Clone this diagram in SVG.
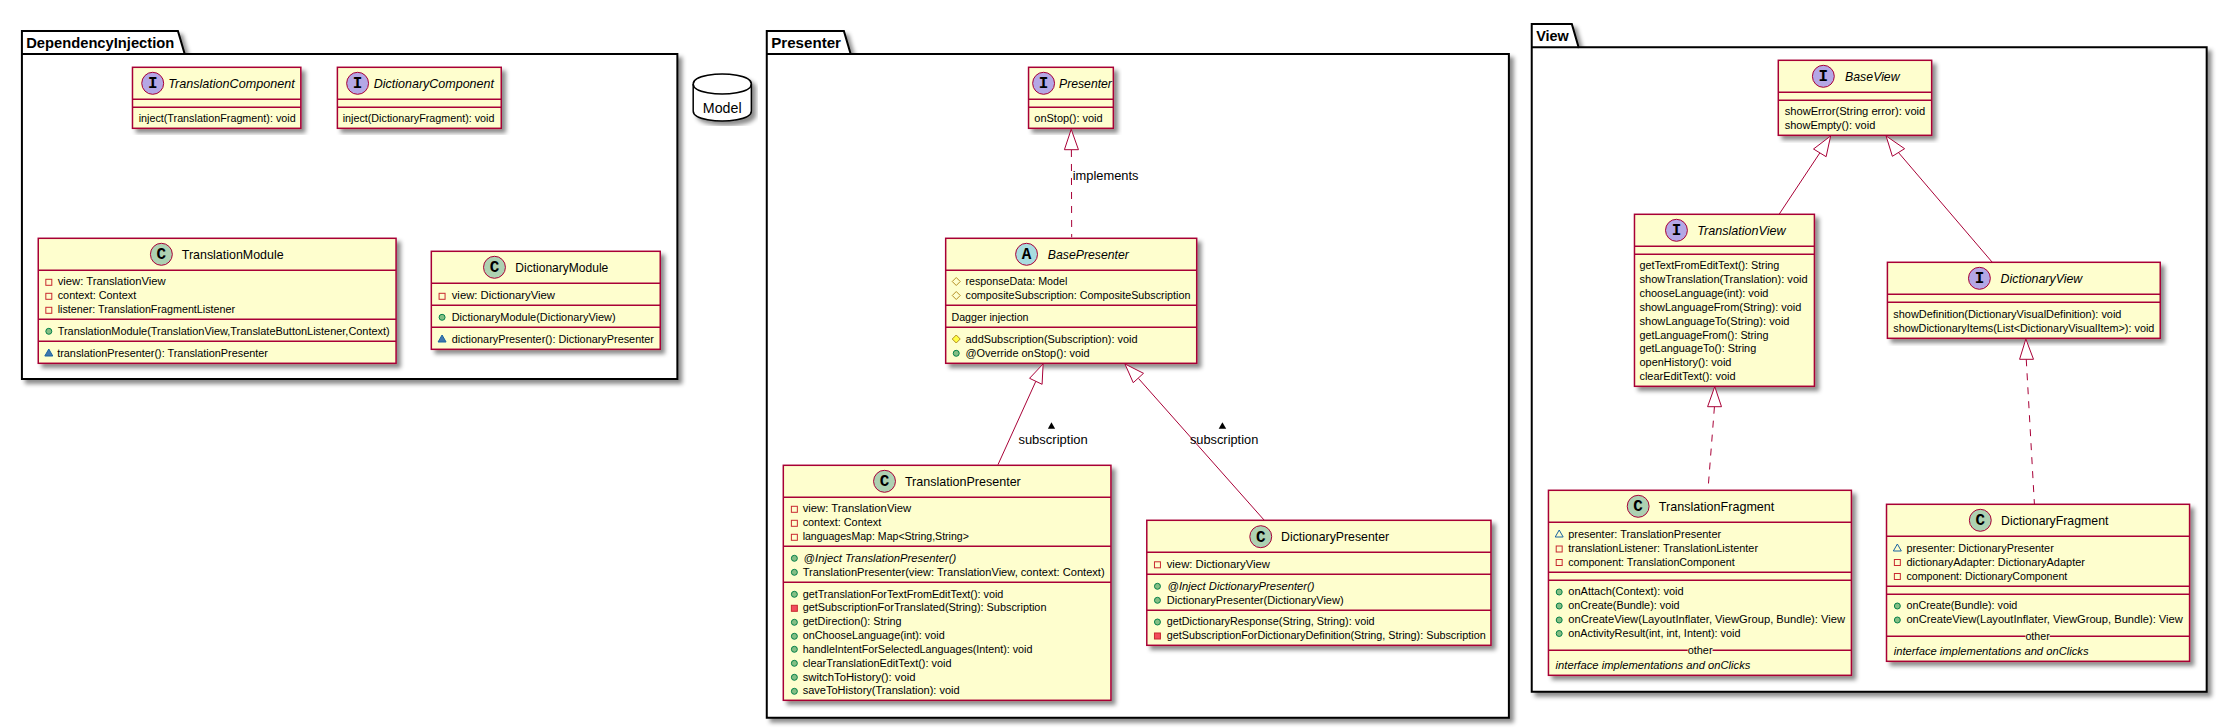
<svg xmlns="http://www.w3.org/2000/svg" width="2227" height="728" viewBox="0 0 2227 728">
<style>
text{font-family:"Liberation Sans",Arial,sans-serif;fill:#000}
.t{font-size:13px}.m{font-size:11.5px}.l{font-size:13px}.i{font-style:italic}
.p{font-size:14px;font-weight:bold}
.b{font-family:"Liberation Mono",monospace;font-weight:bold;font-size:16px;text-anchor:middle}
.pk{fill:#fff;stroke:#000;stroke-width:2}
.box{fill:#FEFECE;stroke:#A80036;stroke-width:1.5}
.s{fill:none;stroke:#A80036;stroke-width:1.5}
.ci{stroke:#A80036;stroke-width:1;fill:#B4A7E5}.cc{stroke:#A80036;stroke-width:1;fill:#ADD1B2}.ca{stroke:#A80036;stroke-width:1;fill:#A9DCDF}
.c{fill:none;stroke:#A80036;stroke-width:1}.d{stroke-dasharray:7 7}
.h{fill:#fff;stroke:#A80036;stroke-width:1}
</style>
<defs>
<filter id="sh" x="-10%" y="-10%" width="120%" height="120%"><feDropShadow dx="4" dy="4" stdDeviation="2" flood-color="#000" flood-opacity=".45"/></filter>
<rect id="fpri" x="-3" y="-3" width="6" height="6" fill="none" stroke="#C82930"/>
<rect id="mpri" x="-3" y="-3" width="6" height="6" fill="#F24D5C" stroke="#C82930"/>
<circle id="mpub" r="3" fill="#84BE84" stroke="#038048"/>
<path id="mpkg" d="M-4 3H4L0-4Z" fill="#4177AF" stroke="#1963A0"/>
<path id="fpkg" d="M-4 3H4L0-4Z" fill="none" stroke="#1963A0"/>
<path id="fpro" d="M0-4L4 0L0 4L-4 0Z" fill="none" stroke="#B38D22"/>
<path id="mpro" d="M0-4L4 0L0 4L-4 0Z" fill="#FFFF44" stroke="#B38D22"/>
</defs>

<g transform="matrix(.99612 0 0 1 0 0)">
<g id="pkg-DependencyInjection"><path class="pk" filter="url(#sh)" d="M22 54V31H178.6L185.4 54H680V379H22Z"/><path class="pk" style="fill:none" d="M22 54H185.4"/><text class="p" x="26.3" y="48.3" textLength="148.7" lengthAdjust="spacingAndGlyphs">DependencyInjection</text></g>
<g id="Model"><path filter="url(#sh)" fill="#fff" stroke="#000" stroke-width="1.5" d="M695.9 84C695.9 74 725 74 725 74C725 74 754.3 74 754.3 84V111C754.3 121 725 121 725 121C725 121 695.9 121 695.9 111Z"/><path fill="none" stroke="#000" stroke-width="1.5" d="M695.9 84C695.9 94 725 94 725 94C725 94 754.3 94 754.3 84"/><text x="705.6" y="113" font-size="14" textLength="38.9" lengthAdjust="spacingAndGlyphs">Model</text></g>

<g id="TranslationComponent"><rect class="box" filter="url(#sh)" x="133" y="67.3" width="169" height="61"/><path class="s" d="M133 99.3H302M133 107.3H302"/><circle class="ci" cx="153.3" cy="83.3" r="11"/><text class="b" x="153.3" y="88.5">I</text><text class="t i" x="168.9" y="88" textLength="127" lengthAdjust="spacingAndGlyphs">TranslationComponent</text><text class="m" x="139.2" y="122" textLength="157.6" lengthAdjust="spacingAndGlyphs">inject(TranslationFragment): void</text></g>
<g id="DictionaryComponent"><rect class="box" filter="url(#sh)" x="338.7" y="67.3" width="164.5" height="61"/><path class="s" d="M338.7 99.3H503.2M338.7 107.3H503.2"/><circle class="ci" cx="359" cy="83.3" r="11"/><text class="b" x="359" y="88.5">I</text><text class="t i" x="375.2" y="88" textLength="120.7" lengthAdjust="spacingAndGlyphs">DictionaryComponent</text><text class="m" x="344" y="122" textLength="152.4" lengthAdjust="spacingAndGlyphs">inject(DictionaryFragment): void</text></g>

<g id="TranslationModule"><rect class="box" filter="url(#sh)" x="38.4" y="238.3" width="359.2" height="125"/><path class="s" d="M38.4 270.3H397.6M38.4 319.3H397.6M38.4 341.3H397.6"/><circle class="cc" cx="162" cy="254.3" r="11"/><text class="b" x="162" y="259.5">C</text><text class="t" x="182.5" y="259" textLength="102.2" lengthAdjust="spacingAndGlyphs">TranslationModule</text>
<use href="#fpri" x="49" y="282.3"/><text class="m" x="57.9" y="285.3" textLength="108.5" lengthAdjust="spacingAndGlyphs">view: TranslationView</text>
<use href="#fpri" x="49" y="296.3"/><text class="m" x="57.9" y="299.3" textLength="78.8" lengthAdjust="spacingAndGlyphs">context: Context</text>
<use href="#fpri" x="49" y="310.3"/><text class="m" x="57.9" y="313.3" textLength="178.1" lengthAdjust="spacingAndGlyphs">listener: TranslationFragmentListener</text>
<use href="#mpub" x="49" y="331.3"/><text class="m" x="57.9" y="335.3" textLength="333.3" lengthAdjust="spacingAndGlyphs">TranslationModule(TranslationView,TranslateButtonListener,Context)</text>
<use href="#mpkg" x="49" y="353"/><text class="m" x="57.4" y="357.3" textLength="211.6" lengthAdjust="spacingAndGlyphs">translationPresenter(): TranslationPresenter</text></g>

<g id="DictionaryModule"><rect class="box" filter="url(#sh)" x="433" y="251.3" width="229.8" height="98"/><path class="s" d="M433 283.3H662.8M433 305.3H662.8M433 327.3H662.8"/><circle class="cc" cx="496.4" cy="267.3" r="11"/><text class="b" x="496.4" y="272.5">C</text><text class="t" x="517.3" y="272" textLength="93.4" lengthAdjust="spacingAndGlyphs">DictionaryModule</text>
<use href="#fpri" x="443.8" y="296.3"/><text class="m" x="453.5" y="299.3" textLength="103.7" lengthAdjust="spacingAndGlyphs">view: DictionaryView</text>
<use href="#mpub" x="443.8" y="317.3"/><text class="m" x="453.5" y="321.3" textLength="164.5" lengthAdjust="spacingAndGlyphs">DictionaryModule(DictionaryView)</text>
<use href="#mpkg" x="443.8" y="339"/><text class="m" x="453.5" y="343.3" textLength="202.9" lengthAdjust="spacingAndGlyphs">dictionaryPresenter(): DictionaryPresenter</text></g>
</g>

<g transform="matrix(.99612 0 0 1 2.95 0)">
<g id="pkg-Presenter"><path class="pk" filter="url(#sh)" d="M766.8 54V31H844.2L851 54H1511.8V717.7H766.8Z"/><path class="pk" style="fill:none" d="M766.8 54H851"/><text class="p" x="771.2" y="48.3" textLength="70.1" lengthAdjust="spacingAndGlyphs">Presenter</text></g>

<g id="Presenter"><rect class="box" filter="url(#sh)" x="1029.6" y="67.3" width="85.1" height="61"/><path class="s" d="M1029.6 99.3H1114.7M1029.6 107.3H1114.7"/><circle class="ci" cx="1044.7" cy="83.3" r="11"/><text class="b" x="1044.7" y="88.5">I</text><text class="t i" x="1060.2" y="88" textLength="53.1" lengthAdjust="spacingAndGlyphs">Presenter</text><text class="m" x="1035.4" y="122" textLength="68.6" lengthAdjust="spacingAndGlyphs">onStop(): void</text></g>

<g id="BasePresenter"><rect class="box" filter="url(#sh)" x="946.4" y="238.3" width="252" height="125"/><path class="s" d="M946.4 270.3H1198.4M946.4 305.3H1198.4M946.4 327.3H1198.4"/><circle class="ca" cx="1027.6" cy="254.3" r="11"/><text class="b" x="1027.6" y="259.5">A</text><text class="t i" x="1049" y="259" textLength="81.3" lengthAdjust="spacingAndGlyphs">BasePresenter</text>
<use href="#fpro" x="957" y="281.5"/><text class="m" x="966.3" y="285.3" textLength="102.2" lengthAdjust="spacingAndGlyphs">responseData: Model</text>
<use href="#fpro" x="957" y="295.5"/><text class="m" x="966.3" y="299.3" textLength="225.8" lengthAdjust="spacingAndGlyphs">compositeSubscription: CompositeSubscription</text>
<text class="m" x="952.2" y="321.3" textLength="77.4" lengthAdjust="spacingAndGlyphs">Dagger injection</text>
<use href="#mpro" x="957" y="339"/><text class="m" x="966.3" y="343.3" textLength="172.7" lengthAdjust="spacingAndGlyphs">addSubscription(Subscription): void</text>
<use href="#mpub" x="957" y="353.3"/><text class="m" x="966.3" y="357.3" textLength="124.6" lengthAdjust="spacingAndGlyphs">@Override onStop(): void</text></g>

<g id="TranslationPresenter"><rect class="box" filter="url(#sh)" x="783.4" y="465.3" width="328.9" height="235"/><path class="s" d="M783.4 497.3H1112.3M783.4 546.3H1112.3M783.4 582.3H1112.3"/><circle class="cc" cx="885" cy="481.3" r="11"/><text class="b" x="885" y="486.5">C</text><text class="t" x="905.5" y="486" textLength="116.3" lengthAdjust="spacingAndGlyphs">TranslationPresenter</text>
<use href="#fpri" x="794.5" y="509.3"/><text class="m" x="802.8" y="512.3" textLength="109" lengthAdjust="spacingAndGlyphs">view: TranslationView</text>
<use href="#fpri" x="794.5" y="523.3"/><text class="m" x="802.8" y="526.3" textLength="78.9" lengthAdjust="spacingAndGlyphs">context: Context</text>
<use href="#fpri" x="794.5" y="537.3"/><text class="m" x="802.8" y="540.3" textLength="166.9" lengthAdjust="spacingAndGlyphs">languagesMap: Map&lt;String,String&gt;</text>
<use href="#mpub" x="794.5" y="558.3"/><text class="m i" x="803.8" y="562.3" textLength="153.2" lengthAdjust="spacingAndGlyphs">@Inject TranslationPresenter()</text>
<use href="#mpub" x="794.5" y="572.3"/><text class="m" x="802.8" y="576.3" textLength="303.2" lengthAdjust="spacingAndGlyphs">TranslationPresenter(view: TranslationView, context: Context)</text>
<use href="#mpub" x="794.5" y="594.3"/><text class="m" x="802.8" y="598" textLength="201.5" lengthAdjust="spacingAndGlyphs">getTranslationForTextFromEditText(): void</text>
<use href="#mpri" x="794.5" y="608.3"/><text class="m" x="802.8" y="611.3" textLength="244.8" lengthAdjust="spacingAndGlyphs">getSubscriptionForTranslated(String): Subscription</text>
<use href="#mpub" x="794.5" y="622.3"/><text class="m" x="802.8" y="625.3" textLength="99.3" lengthAdjust="spacingAndGlyphs">getDirection(): String</text>
<use href="#mpub" x="794.5" y="636.3"/><text class="m" x="802.8" y="639.3" textLength="142.6" lengthAdjust="spacingAndGlyphs">onChooseLanguage(int): void</text>
<use href="#mpub" x="794.5" y="649.3"/><text class="m" x="802.8" y="653.3" textLength="230.7" lengthAdjust="spacingAndGlyphs">handleIntentForSelectedLanguages(Intent): void</text>
<use href="#mpub" x="794.5" y="663.3"/><text class="m" x="802.8" y="667.3" textLength="149.4" lengthAdjust="spacingAndGlyphs">clearTranslationEditText(): void</text>
<use href="#mpub" x="794.5" y="677.3"/><text class="m" x="802.8" y="681.3" textLength="113.4" lengthAdjust="spacingAndGlyphs">switchToHistory(): void</text>
<use href="#mpub" x="794.5" y="691.3"/><text class="m" x="802.8" y="694.3" textLength="157.7" lengthAdjust="spacingAndGlyphs">saveToHistory(Translation): void</text></g>

<g id="DictionaryPresenter"><rect class="box" filter="url(#sh)" x="1148.3" y="520.3" width="345.5" height="125"/><path class="s" d="M1148.3 552.3H1493.8M1148.3 574.3H1493.8M1148.3 610.3H1493.8"/><circle class="cc" cx="1262.7" cy="536.7" r="11"/><text class="b" x="1262.7" y="541.9">C</text><text class="t" x="1283.1" y="541" textLength="108.5" lengthAdjust="spacingAndGlyphs">DictionaryPresenter</text>
<use href="#fpri" x="1159" y="564.8"/><text class="m" x="1168.3" y="568.3" textLength="103.6" lengthAdjust="spacingAndGlyphs">view: DictionaryView</text>
<use href="#mpub" x="1159" y="586.3"/><text class="m i" x="1169.2" y="590.3" textLength="147.5" lengthAdjust="spacingAndGlyphs">@Inject DictionaryPresenter()</text>
<use href="#mpub" x="1159" y="600.3"/><text class="m" x="1168.3" y="604.3" textLength="177.6" lengthAdjust="spacingAndGlyphs">DictionaryPresenter(DictionaryView)</text>
<use href="#mpub" x="1159" y="622"/><text class="m" x="1168.3" y="625.3" textLength="208.7" lengthAdjust="spacingAndGlyphs">getDictionaryResponse(String, String): void</text>
<use href="#mpri" x="1159" y="636"/><text class="m" x="1168.3" y="639.3" textLength="320.2" lengthAdjust="spacingAndGlyphs">getSubscriptionForDictionaryDefinition(String, String): Subscription</text></g>
</g>

<g transform="matrix(.9946 0 0 1 8.21 0)">
<g id="pkg-View"><path class="pk" filter="url(#sh)" d="M1531.8 47.3V24H1572.1L1578.9 47.3H2210.4V691.7H1531.8Z"/><path class="pk" style="fill:none" d="M1531.8 47.3H1578.9"/><text class="p" x="1536.3" y="41" textLength="32.7" lengthAdjust="spacingAndGlyphs">View</text></g>

<g id="BaseView"><rect class="box" filter="url(#sh)" x="1779.7" y="60.3" width="154.2" height="75"/><path class="s" d="M1779.7 92.3H1933.9M1779.7 100.3H1933.9"/><circle class="ci" cx="1825" cy="76.3" r="11"/><text class="b" x="1825" y="81.5">I</text><text class="t i" x="1846.8" y="81" textLength="54.9" lengthAdjust="spacingAndGlyphs">BaseView</text><text class="m" x="1786.1" y="115.3" textLength="141.4" lengthAdjust="spacingAndGlyphs">showError(String error): void</text><text class="m" x="1786.1" y="129.3" textLength="91.1" lengthAdjust="spacingAndGlyphs">showEmpty(): void</text></g>

<g id="TranslationView"><rect class="box" filter="url(#sh)" x="1635.1" y="214.3" width="180.9" height="172"/><path class="s" d="M1635.1 246.3H1816M1635.1 254.3H1816"/><circle class="ci" cx="1677.3" cy="230.3" r="11"/><text class="b" x="1677.3" y="235.5">I</text><text class="t i" x="1698.2" y="235" textLength="88.8" lengthAdjust="spacingAndGlyphs">TranslationView</text>
<text class="m" x="1640.1" y="269.3" textLength="140.6" lengthAdjust="spacingAndGlyphs">getTextFromEditText(): String</text>
<text class="m" x="1640.1" y="283.3" textLength="169.1" lengthAdjust="spacingAndGlyphs">showTranslation(Translation): void</text>
<text class="m" x="1640.1" y="297.3" textLength="129.7" lengthAdjust="spacingAndGlyphs">chooseLanguage(int): void</text>
<text class="m" x="1640.1" y="311.3" textLength="162.8" lengthAdjust="spacingAndGlyphs">showLanguageFrom(String): void</text>
<text class="m" x="1640.1" y="325.3" textLength="150.9" lengthAdjust="spacingAndGlyphs">showLanguageTo(String): void</text>
<text class="m" x="1640.1" y="339.3" textLength="129.7" lengthAdjust="spacingAndGlyphs">getLanguageFrom(): String</text>
<text class="m" x="1640.1" y="352.3" textLength="117.4" lengthAdjust="spacingAndGlyphs">getLanguageTo(): String</text>
<text class="m" x="1640.1" y="366.3" textLength="92.5" lengthAdjust="spacingAndGlyphs">openHistory(): void</text>
<text class="m" x="1640.1" y="380.3" textLength="96.6" lengthAdjust="spacingAndGlyphs">clearEditText(): void</text></g>

<g id="DictionaryView"><rect class="box" filter="url(#sh)" x="1889.4" y="262.3" width="274.3" height="76"/><path class="s" d="M1889.4 294.3H2163.7M1889.4 302.3H2163.7"/><circle class="ci" cx="1981.9" cy="278.3" r="11"/><text class="b" x="1981.9" y="283.5">I</text><text class="t i" x="2003.2" y="283" textLength="82.1" lengthAdjust="spacingAndGlyphs">DictionaryView</text>
<text class="m" x="1895.3" y="318.3" textLength="229.4" lengthAdjust="spacingAndGlyphs">showDefinition(DictionaryVisualDefinition): void</text>
<text class="m" x="1895.3" y="332.3" textLength="262.5" lengthAdjust="spacingAndGlyphs">showDictionaryItems(List&lt;DictionaryVisualItem&gt;): void</text></g>

<g id="TranslationFragment"><rect class="box" filter="url(#sh)" x="1548.6" y="490.3" width="304.6" height="185"/><path class="s" d="M1548.6 522.3H1853.2M1548.6 572.3H1853.2M1548.6 580.3H1853.2M1548.6 650.3H1688.6M1713.6 650.3H1853.2"/><circle class="cc" cx="1638.8" cy="506.3" r="11"/><text class="b" x="1638.8" y="511.5">C</text><text class="t" x="1659.6" y="511" textLength="116.1" lengthAdjust="spacingAndGlyphs">TranslationFragment</text>
<use href="#fpkg" x="1559.4" y="534"/><text class="m" x="1568.5" y="538.3" textLength="153.7" lengthAdjust="spacingAndGlyphs">presenter: TranslationPresenter</text>
<use href="#fpri" x="1559.4" y="549"/><text class="m" x="1568.5" y="552.3" textLength="190.8" lengthAdjust="spacingAndGlyphs">translationListener: TranslationListenter</text>
<use href="#fpri" x="1559.4" y="562.5"/><text class="m" x="1568.5" y="566.3" textLength="167.3" lengthAdjust="spacingAndGlyphs">component: TranslationComponent</text>
<use href="#mpub" x="1559.4" y="592"/><text class="m" x="1568.5" y="595.3" textLength="116.1" lengthAdjust="spacingAndGlyphs">onAttach(Context): void</text>
<use href="#mpub" x="1559.4" y="606"/><text class="m" x="1568.5" y="609.3" textLength="112" lengthAdjust="spacingAndGlyphs">onCreate(Bundle): void</text>
<use href="#mpub" x="1559.4" y="620"/><text class="m" x="1568.5" y="623.3" textLength="278.3" lengthAdjust="spacingAndGlyphs">onCreateView(LayoutInflater, ViewGroup, Bundle): View</text>
<use href="#mpub" x="1559.4" y="633.5"/><text class="m" x="1568.5" y="637.3" textLength="173.2" lengthAdjust="spacingAndGlyphs">onActivityResult(int, int, Intent): void</text>
<text class="m" x="1688.6" y="654.3" textLength="25" lengthAdjust="spacingAndGlyphs">other</text>
<text class="m i" x="1555.8" y="669.3" textLength="195.8" lengthAdjust="spacingAndGlyphs">interface implementations and onClicks</text></g>

<g id="DictionaryFragment"><rect class="box" filter="url(#sh)" x="1888.5" y="504.3" width="304.7" height="157"/><path class="s" d="M1888.5 536.3H2193.2M1888.5 586.3H2193.2M1888.5 594.3H2193.2M1888.5 636.3H2028.2M2052.6 636.3H2193.2"/><circle class="cc" cx="1982.8" cy="520.3" r="11"/><text class="b" x="1982.8" y="525.5">C</text><text class="t" x="2003.7" y="525" textLength="107.9" lengthAdjust="spacingAndGlyphs">DictionaryFragment</text>
<use href="#fpkg" x="1899.4" y="548"/><text class="m" x="1908.5" y="552.3" textLength="148.2" lengthAdjust="spacingAndGlyphs">presenter: DictionaryPresenter</text>
<use href="#fpri" x="1899.4" y="562.5"/><text class="m" x="1908.5" y="566.3" textLength="179.5" lengthAdjust="spacingAndGlyphs">dictionaryAdapter: DictionaryAdapter</text>
<use href="#fpri" x="1899.4" y="576.5"/><text class="m" x="1908.5" y="580.3" textLength="161.8" lengthAdjust="spacingAndGlyphs">component: DictionaryComponent</text>
<use href="#mpub" x="1899.4" y="606"/><text class="m" x="1908.5" y="609.3" textLength="111.5" lengthAdjust="spacingAndGlyphs">onCreate(Bundle): void</text>
<use href="#mpub" x="1899.4" y="620"/><text class="m" x="1908.5" y="623.3" textLength="277.9" lengthAdjust="spacingAndGlyphs">onCreateView(LayoutInflater, ViewGroup, Bundle): View</text>
<text class="m" x="2028.2" y="640.3" textLength="24.4" lengthAdjust="spacingAndGlyphs">other</text>
<text class="m i" x="1895.8" y="655.3" textLength="195.8" lengthAdjust="spacingAndGlyphs">interface implementations and onClicks</text></g>
</g>

<g id="connectors">
<g transform="matrix(.99612 0 0 1 2.95 0)">
<path class="c d" d="M1072.6 150L1072.9 237.3"/><path class="h" d="M1072.4 129.3L1065.6 149.7H1079.7Z"/><text class="l" x="1073.9" y="180" textLength="66.1" lengthAdjust="spacingAndGlyphs">implements</text>
<path class="c" d="M1036.9 381.3L998.9 464.7"/><path class="h" d="M1044.2 364L1030.6 378.3L1043.2 384.3Z"/><path d="M1049 428.7H1056.3L1052.6 422.3Z"/><text class="l" x="1019.4" y="444.3" textLength="69.6" lengthAdjust="spacingAndGlyphs">subscription</text>
<path class="c" d="M1140 378.5L1266 520"/><path class="h" d="M1126.4 364L1145 373.3L1134.7 382.7Z"/><path d="M1220.5 428.7H1228L1224.2 422.3Z"/><text class="l" x="1191.6" y="444.3" textLength="68.6" lengthAdjust="spacingAndGlyphs">subscription</text>
</g>
<g transform="matrix(.9946 0 0 1 8.21 0)">
<path class="c" d="M1821.4 153L1780.7 214"/><path class="h" d="M1832.3 136L1815.1 149L1827.8 156.7Z"/>
<path class="c" d="M1900.5 152.5L1994.6 262"/><path class="h" d="M1888.1 136L1906.7 148.7L1894.4 156.3Z"/>
<path class="c d" d="M2029 359.3L2037.2 504"/><path class="h" d="M2028.6 339L2022.3 359.3H2036.3Z"/>
<path class="c d" d="M1715.5 406.7L1709 490"/><path class="h" d="M1715.8 386.7L1708.6 406.7H1722.6Z"/>
</g>
</g>
</svg>
